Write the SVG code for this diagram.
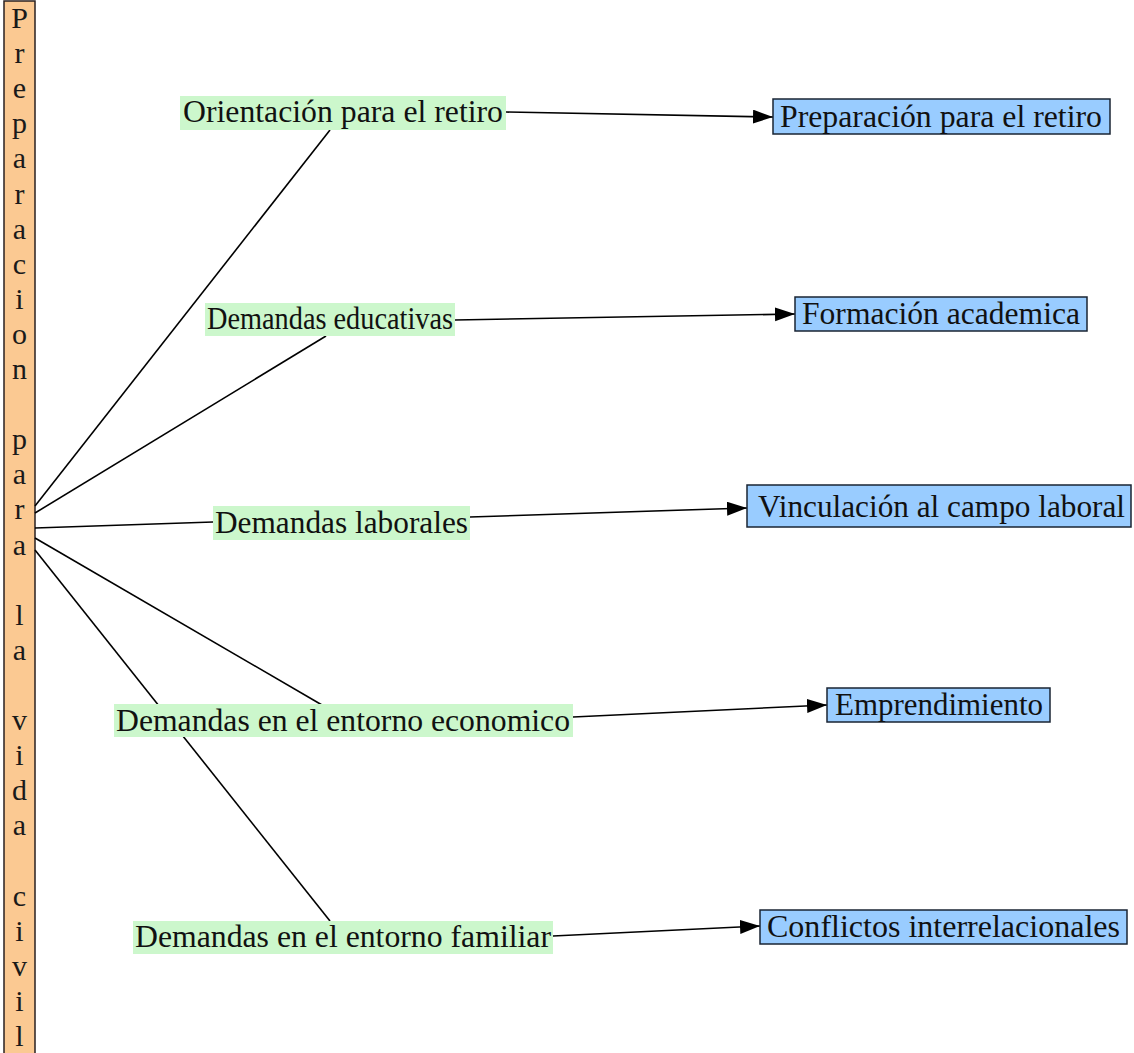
<svg xmlns="http://www.w3.org/2000/svg" width="1134" height="1053" viewBox="0 0 1134 1053">
<defs>
<style>
.t{font-family:"Liberation Serif","Times New Roman",serif;font-size:32px;fill:#111}
.bar{font-family:"Liberation Serif","Times New Roman",serif;font-size:30px;fill:#1a1a1a;text-anchor:middle}
.lab{fill:#ccf7cc}
.box{fill:#99ccff;stroke:#1a2433;stroke-width:1.5}
.ln{stroke:#000;stroke-width:1.6;fill:none}
</style>
<marker id="ah" markerUnits="userSpaceOnUse" markerWidth="22" markerHeight="16" refX="20" refY="7" orient="auto">
<path d="M0,0 L20,7 L0,14 z" fill="#000"/>
</marker>
</defs>
<rect width="1134" height="1053" fill="#fff"/>

<g id="bar">
<rect x="4" y="1" width="31" height="1060" fill="#fbc992" stroke="#2a2020" stroke-width="1.5"/>
<text class="bar">
<tspan x="19.5" y="28">P</tspan><tspan x="19.5" y="63">r</tspan><tspan x="19.5" y="98">e</tspan><tspan x="19.5" y="133">p</tspan><tspan x="19.5" y="168">a</tspan><tspan x="19.5" y="204">r</tspan><tspan x="19.5" y="239">a</tspan><tspan x="19.5" y="274">c</tspan><tspan x="19.5" y="309">i</tspan><tspan x="19.5" y="344">o</tspan><tspan x="19.5" y="379">n</tspan><tspan x="19.5" y="449">p</tspan><tspan x="19.5" y="484">a</tspan><tspan x="19.5" y="519">r</tspan><tspan x="19.5" y="555">a</tspan><tspan x="19.5" y="625">l</tspan><tspan x="19.5" y="660">a</tspan><tspan x="19.5" y="730">v</tspan><tspan x="19.5" y="765">i</tspan><tspan x="19.5" y="800">d</tspan><tspan x="19.5" y="835">a</tspan><tspan x="19.5" y="906">c</tspan><tspan x="19.5" y="941">i</tspan><tspan x="19.5" y="976">v</tspan><tspan x="19.5" y="1011">i</tspan><tspan x="19.5" y="1046">l</tspan>
</text>
</g>

<g id="connectors">
<line class="ln" x1="35" y1="506" x2="330" y2="130"/>
<line class="ln" x1="35" y1="513" x2="326" y2="336"/>
<line class="ln" x1="35" y1="528" x2="213" y2="522"/>
<line class="ln" x1="35" y1="538" x2="322" y2="705"/>
<line class="ln" x1="35" y1="550" x2="330" y2="921"/>
<line class="ln" x1="506" y1="112" x2="773" y2="117" marker-end="url(#ah)"/>
<line class="ln" x1="455" y1="320" x2="795" y2="314" marker-end="url(#ah)"/>
<line class="ln" x1="470" y1="517" x2="747" y2="508" marker-end="url(#ah)"/>
<line class="ln" x1="573" y1="717" x2="827" y2="705" marker-end="url(#ah)"/>
<line class="ln" x1="553" y1="936" x2="760" y2="926" marker-end="url(#ah)"/>
</g>

<g id="orientacion">
<rect class="lab" x="180" y="96" width="326" height="34"/>
<text class="t" x="183" y="122" textLength="320" lengthAdjust="spacingAndGlyphs">Orientación para el retiro</text>
</g>
<g id="educativas">
<rect class="lab" x="205" y="303" width="250" height="33"/>
<text class="t" x="207" y="329" textLength="246" lengthAdjust="spacingAndGlyphs">Demandas educativas</text>
</g>
<g id="laborales">
<rect class="lab" x="213" y="506" width="257" height="34"/>
<text class="t" x="215" y="533" textLength="253" lengthAdjust="spacingAndGlyphs">Demandas laborales</text>
</g>
<g id="economico">
<rect class="lab" x="114" y="704" width="459" height="33"/>
<text class="t" x="116" y="731" textLength="454" lengthAdjust="spacingAndGlyphs">Demandas en el entorno economico</text>
</g>
<g id="familiar">
<rect class="lab" x="133" y="921" width="420" height="33"/>
<text class="t" x="135" y="947" textLength="416" lengthAdjust="spacingAndGlyphs">Demandas en el entorno familiar</text>
</g>

<g id="preparacion">
<rect class="box" x="773" y="99" width="337" height="35"/>
<text class="t" x="780" y="127" textLength="322" lengthAdjust="spacingAndGlyphs">Preparación para el retiro</text>
</g>
<g id="formacion">
<rect class="box" x="795" y="297" width="292" height="34"/>
<text class="t" x="802" y="324" textLength="278" lengthAdjust="spacingAndGlyphs">Formación academica</text>
</g>
<g id="vinculacion">
<rect class="box" x="747" y="485" width="384" height="42"/>
<text class="t" x="758" y="517" textLength="367" lengthAdjust="spacingAndGlyphs">Vinculación al campo laboral</text>
</g>
<g id="emprendimiento">
<rect class="box" x="827" y="688" width="223" height="34"/>
<text class="t" x="835" y="715" textLength="208" lengthAdjust="spacingAndGlyphs">Emprendimiento</text>
</g>
<g id="conflictos">
<rect class="box" x="760" y="910" width="367" height="34"/>
<text class="t" x="767" y="937" textLength="353" lengthAdjust="spacingAndGlyphs">Conflictos interrelacionales</text>
</g>
</svg>
